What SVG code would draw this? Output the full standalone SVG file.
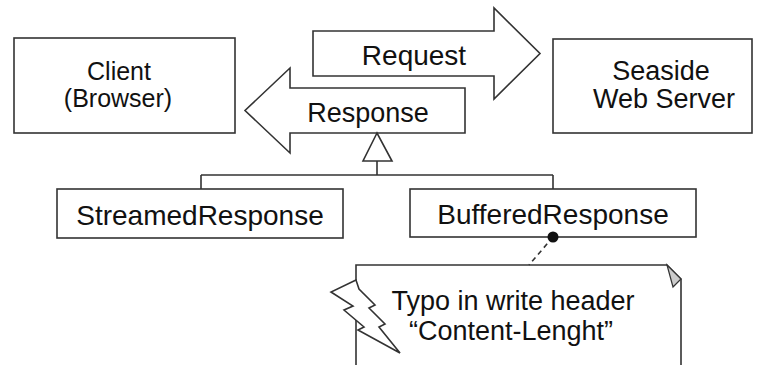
<svg xmlns="http://www.w3.org/2000/svg" width="759" height="365" viewBox="0 0 759 365">
<style>
.box{fill:#fff;stroke:#333;stroke-width:1.6}
.ln{fill:none;stroke:#333;stroke-width:1.6}
text{font-family:"Liberation Sans",Arial,sans-serif;fill:#111;text-anchor:middle}
</style>
<rect width="759" height="365" fill="#fff"/>
<g id="client">
<rect class="box" x="14" y="38" width="221" height="95"/>
<text x="119" y="80" font-size="25">Client</text>
<text x="118" y="107" font-size="25">(Browser)</text>
</g>
<g id="server">
<rect class="box" x="553" y="39" width="199" height="94"/>
<text x="661" y="80" font-size="27">Seaside</text>
<text x="664" y="108" font-size="27">Web Server</text>
</g>
<g id="request">
<polygon class="box" points="313,31 494,31 494,8 540,53.5 494,99 494,76 313,76"/>
<text x="414" y="65" font-size="28">Request</text>
</g>
<g id="response">
<polygon class="box" points="465,88 290,88 290,68 245,110.5 290,153 290,133 465,133"/>
<text x="368" y="122" font-size="27">Response</text>
</g>
<g id="streamed">
<rect class="box" x="57" y="189" width="286" height="49"/>
<text x="200" y="225" font-size="28">StreamedResponse</text>
</g>
<g id="buffered">
<rect class="box" x="410" y="189" width="286" height="48"/>
<text x="553" y="224" font-size="28">BufferedResponse</text>
</g>
<g id="note">
<path class="box" d="M356,265 H667 L681,279 V380 H356 Z"/>
<polygon points="667,265 673,287 681,279" fill="#ccc" stroke="#333" stroke-width="1.2"/>
<polygon class="box" points="356,280 331,292 353,306 344,310 364,327 358,330 400,353 379,327 385,324 369,308 375,305 359,289"/>
<text x="513" y="310" font-size="27">Typo in write header</text>
<text x="511" y="340" font-size="27">“Content-Lenght”</text>
</g>
<g id="connectors">
<polygon class="box" points="377,133 363,161 392,161"/>
<path class="ln" d="M377,161 V175 M201,175 H553 M201,175 V189 M553,175 V189"/>
<line class="ln" x1="553" y1="237" x2="529" y2="265" stroke-dasharray="5,4"/>
<circle cx="553" cy="237" r="5.5" fill="#111"/>
</g>
</svg>
